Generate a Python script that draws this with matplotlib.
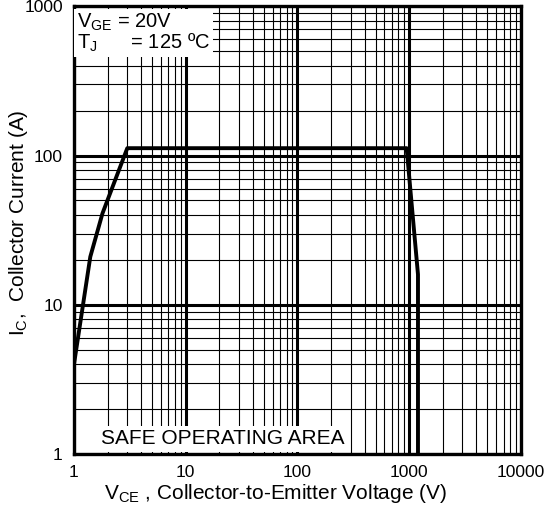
import matplotlib
matplotlib.use("Agg")
import matplotlib.pyplot as plt
from matplotlib.ticker import FixedLocator, NullFormatter, LogLocator

plt.rcParams['font.family'] = ['Liberation Sans', 'DejaVu Sans']
plt.rcParams['mathtext.fontset'] = 'custom'
plt.rcParams['mathtext.rm'] = 'Liberation Sans'

# safe operating area boundary (VCE in V, IC in A)
vce = [1.0, 1.4, 1.8, 3.0, 950, 1200, 1200]
ic = [4.0, 21, 41, 112, 112, 16, 1.0]

x_ticks = [1, 10, 100, 1000, 10000]
y_ticks = [1, 10, 100, 1000]

fig = plt.figure(figsize=(5.5, 5.15), dpi=100)
ax = fig.add_axes([0.1345, 0.118, 0.8125, 0.870])
ax.set_xscale('log')
ax.set_yscale('log')
ax.set_xlim(1, 10000)
ax.set_ylim(1, 1000)

ax.xaxis.set_major_locator(FixedLocator(x_ticks))
ax.yaxis.set_major_locator(FixedLocator(y_ticks))
ax.xaxis.set_minor_locator(LogLocator(base=10, subs=range(2, 10)))
ax.yaxis.set_minor_locator(LogLocator(base=10, subs=range(2, 10)))
ax.xaxis.set_minor_formatter(NullFormatter())
ax.yaxis.set_minor_formatter(NullFormatter())
ax.set_xticklabels([str(t) for t in x_ticks])
ax.set_yticklabels([str(t) for t in y_ticks])
ax.tick_params(which='both', length=0, labelsize=12.5, pad=8)

ax.grid(which='major', color='black', lw=2.2)
ax.grid(which='minor', color='black', lw=0.8)
for s in ax.spines.values():
    s.set_linewidth(2.4)

ax.plot(vce, ic, color='black', lw=2.8, zorder=5)

ax.text(1.06, 920, '$\\mathregular{V_{GE}}$ = 20V\n$\\mathregular{T_{J}}$      = 125 \u00baC',
        fontsize=14.5, va='top', ha='left', linespacing=0.95, zorder=6,
        bbox=dict(facecolor='white', edgecolor='none', pad=2))
ax.text(1.75, 1.1, 'SAFE OPERATING AREA', fontsize=15, va='bottom', ha='left',
        zorder=6, bbox=dict(facecolor='white', edgecolor='none', pad=2.5))

ax.set_xlabel('$\\mathregular{V_{CE}}$ , Collector-to-Emitter Voltage (V)', fontsize=15)
ax.set_ylabel('$\\mathregular{I_{C}}$,  Collector Current (A)', fontsize=15)
ax.xaxis.set_label_coords(0.452, -0.062)
ax.yaxis.set_label_coords(-0.098, 0.516)

fig.savefig('out.png', dpi=100)
